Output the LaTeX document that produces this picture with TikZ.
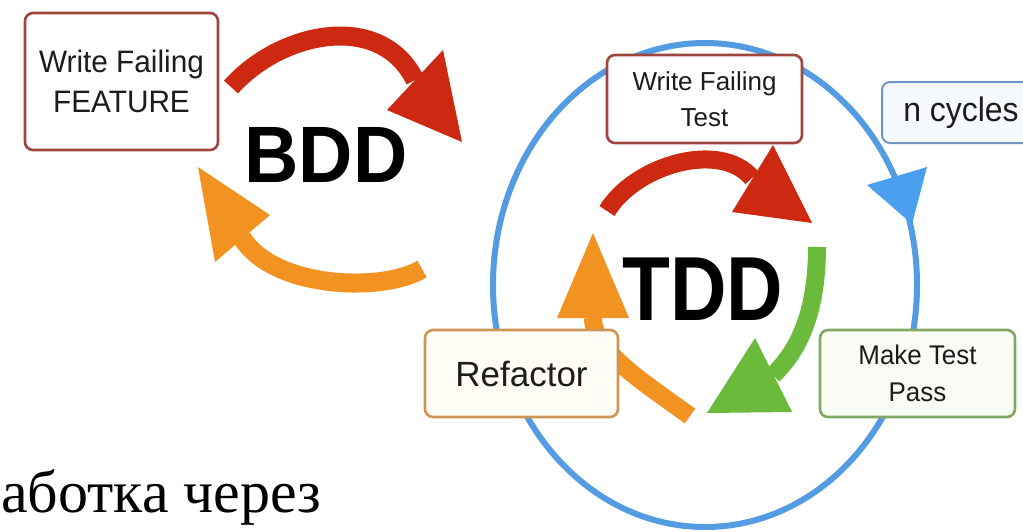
\documentclass[tikz,border=0pt]{standalone}
\usepackage{fontspec}
\usepackage{graphicx}
\setmainfont{Liberation Sans}
\newfontfamily\serifcyr{Liberation Serif}
\definecolor{bddred}{RGB}{205,40,16}
\definecolor{bddorange}{RGB}{242,146,32}
\definecolor{tddgreen}{RGB}{108,186,60}
\definecolor{cycblue}{RGB}{84,156,226}
\definecolor{headblue}{RGB}{74,160,238}
\definecolor{boxred}{RGB}{160,68,62}
\definecolor{boxblue}{RGB}{112,150,198}
\definecolor{boxtan}{RGB}{204,150,84}
\definecolor{boxgreen}{RGB}{128,168,98}
\definecolor{txt}{RGB}{28,28,28}
\begin{document}
\begin{tikzpicture}[x=1pt,y=-1pt,
  box/.style={draw, line width=2.6pt, rounded corners=8pt, fill=white, align=center, text=txt, inner sep=0pt},
  band/.style={line width=19pt},
  cycline/.style={draw=cycblue, line width=6pt}]
\clip (0,0) rectangle (1023,531);
\fill[white] (0,0) rectangle (1023,531);

% TDD cycle ellipse with arrowhead
\draw[cycline] (705,285) ellipse [x radius=212, y radius=242];
\fill[headblue] (867,185) -- (927,167) -- (912,224) -- cycle;

% BDD arrows
\coordinate (br0) at (231,87);
\coordinate (br1) at (415,80);
\draw[band, bddred] (br0) .. controls (280,32) and (380,10) .. (br1);
\fill[bddred] (443,50) -- (462,142) -- (387,110) -- cycle;

\coordinate (bo0) at (422,269);
\coordinate (bo1) at (242,238);
\draw[band, bddorange] (bo0) .. controls (385,292) and (275,290) .. (bo1);
\fill[bddorange] (198,167) -- (270,215) -- (215,262) -- cycle;

% TDD arrows
\coordinate (tr0) at (607,211);
\coordinate (tr1) at (752,178);
\draw[band, bddred, line width=18pt] (tr0) .. controls (635,165) and (720,140) .. (tr1);
\fill[bddred] (773,145) -- (812,223) -- (732,212) -- cycle;

\coordinate (tg0) at (817,247);
\coordinate (tg1) at (773,375);
\draw[band, tddgreen, line width=18pt] (tg0) .. controls (817,300) and (805,345) .. (tg1);
\fill[tddgreen] (755,338) -- (792,412) -- (707,413) -- cycle;

\coordinate (to0) at (690,416);
\coordinate (to1) at (593,318);
\draw[band, bddorange, line width=18pt] (to0) .. controls (640,380) and (593,350) .. (to1);
\fill[bddorange] (593,233) -- (629,318) -- (557,318) -- cycle;

% boxes
\node[box, draw=boxred, minimum width=193, minimum height=137,
      font=\fontsize{31}{40}\selectfont] (feat) at (121.5,81.5)
      {\scalebox{.96}[1]{Write Failing}\\\scalebox{.96}[1]{FEATURE}};
\node[box, draw=boxred, minimum width=195, minimum height=88,
      font=\fontsize{26}{36}\selectfont] (wft) at (704.5,99)
      {Write Failing\\Test};
\node[box, draw=boxblue, line width=2pt, fill={rgb,255:red,246;green,250;blue,255}, minimum width=158, minimum height=61,
      font=\fontsize{34}{40}\selectfont] (ncyc) at (961,112.5)
      {\scalebox{.94}[1]{n cycles}};
\node[box, draw=boxtan, fill={rgb,255:red,255;green,253;blue,245}, minimum width=193, minimum height=87,
      font=\fontsize{35}{40}\selectfont] (refac) at (521.5,373.5)
      {Refactor};
\node[box, draw=boxgreen, fill={rgb,255:red,249;green,252;blue,244}, minimum width=195, minimum height=87,
      font=\fontsize{27}{37}\selectfont] (mtp) at (917.5,373.5)
      {\scalebox{.96}[1]{Make Test}\\\scalebox{.96}[1]{Pass}};

% big labels
\node[anchor=base, inner sep=0pt, font=\fontsize{80}{80}\selectfont\bfseries] (bdd) at (326,182)
      {\scalebox{.94}[1]{BDD}};
\node[anchor=base, inner sep=0pt, font=\fontsize{91}{91}\selectfont\bfseries] (tdd) at (703,320)
      {\scalebox{.86}[1]{TDD}};

% cut-off caption
\node[anchor=base west, inner sep=0pt, font=\serifcyr\fontsize{60}{60}\selectfont] (capt) at (1,512)
      {аботка через};
\end{tikzpicture}
\end{document}
